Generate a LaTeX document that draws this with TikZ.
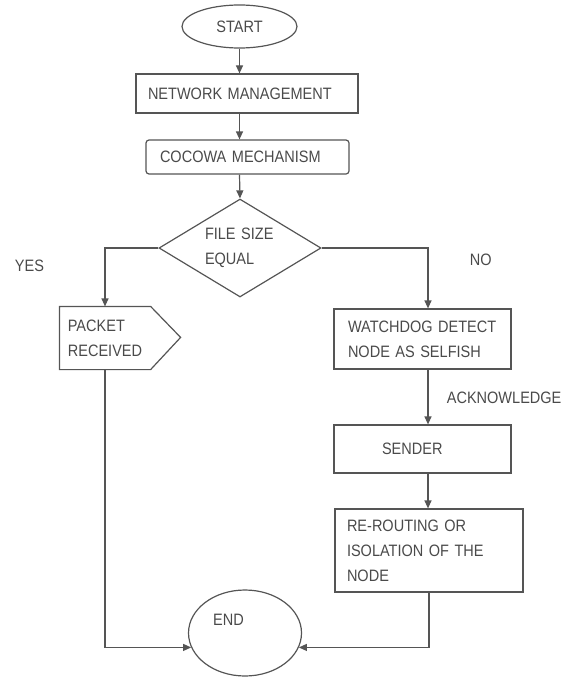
\documentclass[tikz,border=0pt]{standalone}
\usepackage{fontspec}
\setmainfont{Liberation Sans}[FakeStretch=0.88]
\usetikzlibrary{arrows.meta,shapes.geometric}
\definecolor{ink}{HTML}{4A4A4A}
\definecolor{edge}{HTML}{555555}
\tikzset{
 box/.style={draw=edge,rectangle,align=left,inner sep=0pt,text=ink},
 oval/.style={draw=edge,ellipse,inner sep=0pt,text=ink},
 arr/.style={draw=edge,-{Triangle[length=8pt,width=7pt]}}
}
\begin{document}
\begin{tikzpicture}[x=1pt,y=-1pt,line width=1.2pt,font=\fontsize{16.5}{25}\selectfont]
\useasboundingbox (0,0) rectangle (564,677);
\node[oval,minimum width=115pt,minimum height=43pt] (start) at (239.5,26.5) {START};
\node[box,minimum width=222pt,minimum height=39pt,text width=198pt] (net) at (247,93.5) {NETWORK MANAGEMENT};
\node[box,rounded corners=3pt,minimum width=203pt,minimum height=34pt,text width=175pt] (coco) at (247.5,157) {COCOWA MECHANISM};
\node[draw=edge,diamond,aspect=1.65,inner sep=0pt,minimum width=162pt,minimum height=98pt,text width=70pt,align=left,text=ink] (dec) at (240,248) {FILE SIZE\\EQUAL};
\node[box,draw=none,minimum width=90pt,minimum height=62pt] (pkt) at (105,338) {PACKET\\RECEIVED};
\draw[edge] (pkt.north west) -- (pkt.north east) -- ++(30,31) -- (pkt.south east) -- (pkt.south west) -- cycle;
\node[box,minimum width=177pt,minimum height=60pt,text width=149pt] (wd) at (422.5,339) {WATCHDOG DETECT\\NODE AS SELFISH};
\node[box,minimum width=177pt,minimum height=48pt,text width=149pt] (snd) at (422.5,449) {\hspace*{34pt}SENDER};
\node[box,minimum width=188pt,minimum height=83pt,text width=164pt] (rr) at (429,550.5) {RE-ROUTING OR\\ISOLATION OF THE\\NODE};
\node[oval,minimum width=113pt,minimum height=86pt] (stop) at (245,633) {};
\node[text=ink] (endtxt) at (228.5,620) {END};
\node[text=ink,anchor=west] (yes) at (11,266) {YES};
\node[text=ink,anchor=west] (no) at (466,260) {NO};
\node[text=ink,anchor=east,inner sep=1pt] (ack) at (563,398) {ACKNOWLEDGE};
\coordinate (col) at (428,0);
\draw[arr] (start.south) -- (start.south |- net.north);
\draw[arr] (start.south |- net.south) -- (start.south |- coco.north);
\draw[arr] (start.south |- coco.south) -- (dec.north);
\draw[arr] (dec.west) -| (pkt.north);
\draw[arr] (dec.east) -| (col |- wd.north);
\draw[arr] (col |- wd.south) -- (col |- snd.north);
\draw[arr] (col |- snd.south) -- (col |- rr.north);
\draw[arr] (pkt.south) |- (stop.195);
\draw[arr] (rr.south) |- (stop.-15);
\end{tikzpicture}
\end{document}
